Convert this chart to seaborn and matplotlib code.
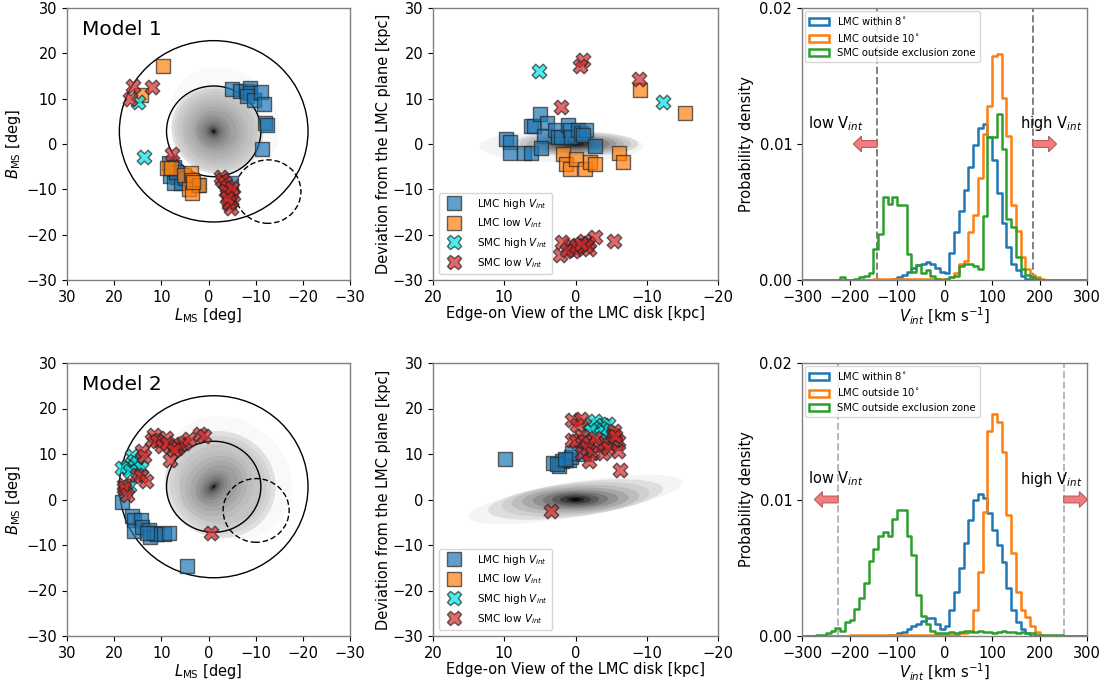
import numpy as np
import pandas as pd
import matplotlib
matplotlib.use("Agg")
import matplotlib.pyplot as plt
from matplotlib.patches import Circle, Ellipse, Patch
from matplotlib.lines import Line2D
import seaborn as sns

# ---------------------------------------------------------------- sky positions
# Model 1, (L_MS, B_MS) in degrees
m1_sky_lmc_hi_L = [-5.0, -6.7, -7.9, -8.9, -8.8, -8.2, -9.6, -11.2, -11.8, -12.0, -12.3, -11.4,
                   8.4, 7.4, 8.1, 6.6, 7.4, 5.9, 6.8, 2.2, -4.7, 5.0]
m1_sky_lmc_hi_B = [12.1, 11.6, 11.8, 12.3, 11.2, 10.5, 9.6, 11.4, 8.9, 4.6, 4.1, -1.1,
                   -4.2, -5.0, -7.0, -7.2, -8.7, -8.7, -6.2, -9.0, -8.5, -7.5]
m1_sky_lmc_lo_L = [9.6, 14.4, 8.9, 7.9, 5.2, 3.8, 3.5, 4.2, 2.0, 3.5, 3.2]
m1_sky_lmc_lo_B = [17.3, 10.9, -5.3, -5.3, -6.8, -6.5, -7.9, -9.9, -9.0, -10.9, -8.3]
m1_sky_smc_hi_L = [14.9, 13.7]
m1_sky_smc_hi_B = [9.2, -2.9]
m1_sky_smc_lo_L = [16.0, 16.6, 12.0, 7.7, -2.6, -2.9, -3.6, -4.0, -4.5, -4.1, -4.7, -4.3,
                   -4.8, -5.2, -3.8, -4.9, -4.4, -3.9]
m1_sky_smc_lo_B = [12.8, 9.9, 12.5, -2.3, -7.2, -7.9, -8.6, -9.4, -10.5, -11.6, -12.3, -13.2,
                   -14.2, -11.2, -10.4, -9.8, -12.8, -12.0]

# Model 2, (L_MS, B_MS) in degrees
m2_sky_lmc_hi_L = [18.3, 16.2, 15.8, 14.4, 15.8, 14.1, 12.7, 12.3, 11.6, 10.9, 9.5, 8.4, 13.0, 4.5]
m2_sky_lmc_hi_B = [-0.6, -3.7, -4.5, -4.5, -7.0, -6.0, -6.7, -8.2, -7.3, -7.6, -7.6, -7.4, -7.4, -14.6]
m2_sky_lmc_lo_L = []
m2_sky_lmc_lo_B = []
m2_sky_smc_hi_L = [16.2, 15.8, 17.3, 15.5, 15.1, 14.4, 18.3, 16.9, 17.6, 16.6]
m2_sky_smc_hi_B = [9.5, 8.4, 7.1, 7.3, 8.0, 6.9, 7.0, 2.9, 1.8, 6.2]
m2_sky_smc_lo_L = [11.6, 12.0, 9.1, 10.9, 9.8, 8.8, 7.0, 5.9, 6.6, 5.2, 4.2, 7.4, 8.1, 1.8,
                   1.0, 14.1, 13.7, 15.1, 14.4, 13.2, 18.0, 18.0, 17.3, -0.6]
m2_sky_smc_lo_B = [14.1, 13.1, 13.5, 12.8, 11.8, 12.4, 11.7, 12.2, 11.3, 12.4, 13.3, 10.9, 8.7, 14.4,
                   14.0, 10.6, 9.5, 5.4, 5.1, 4.0, 3.2, 2.5, 1.0, -7.3]

# ------------------------------------------------------- edge-on positions [kpc]
m1_edge_lmc_hi_x = [9.7, 9.2, 9.2, 7.2, 6.3, 6.2, 5.8, 5.0, 4.0, 4.4, 4.8, 2.9, 2.5, 2.0, 1.0,
                    0.8, 0.6, -0.4, -0.8, -1.5, -1.1, -2.8]
m1_edge_lmc_hi_z = [1.1, 0.5, -1.9, -1.9, -2.0, 3.9, 3.9, 6.6, 4.7, 1.8, -0.9, 3.1, 1.6, 1.6, 4.2,
                    3.1, 1.6, 3.1, 2.4, 3.0, 2.0, -0.4]
m1_edge_lmc_lo_x = [-9.0, -15.3, 1.7, 1.4, 0.8, -0.1, -1.4, -2.0, -2.8, -6.1, -6.7]
m1_edge_lmc_lo_z = [12.0, 6.8, -2.2, -4.4, -5.6, -3.3, -5.5, -4.0, -4.5, -2.0, -3.9]
m1_edge_smc_hi_x = [5.1, -12.3]
m1_edge_smc_hi_z = [16.0, 9.2]
m1_edge_smc_lo_x = [-1.1, -0.6, -8.9, 2.0, 0.8, 1.9, -0.1, 0.3, 2.2, 1.2, -1.2, -1.8, -1.9, -2.7,
                    -1.5, -5.4, 0.0, -0.8]
m1_edge_smc_lo_z = [18.6, 17.1, 14.4, 8.1, -22.3, -21.7, -23.1, -23.6, -24.5, -23.4, -21.4, -21.8,
                    -23.1, -20.6, -22.5, -21.3, -22.6, -22.0]

m2_edge_lmc_hi_x = [9.9, 3.1, 2.35, 1.9, 1.3, 0.9, 0.6, 0.47, -1.2, -5.6, 2.6, 1.5]
m2_edge_lmc_hi_z = [8.9, 8.0, 7.3, 8.4, 8.6, 8.7, 9.4, 10.3, 10.0, 12.4, 7.9, 9.0]
m2_edge_lmc_lo_x = []
m2_edge_lmc_lo_z = []
m2_edge_smc_hi_x = [-2.1, -2.8, -3.8, -4.5, -3.4, -3.9, -4.9, -5.2, -3.0, -2.0]
m2_edge_smc_hi_z = [16.4, 17.2, 16.4, 16.6, 15.7, 15.3, 12.4, 13.1, 14.8, 15.2]
m2_edge_smc_lo_x = [0.5, -0.75, -0.2, 0.5, 0.0, -0.9, -1.4, -1.9, -0.9, -1.6, -2.35, -1.9, -3.8,
                    -3.3, -4.0, -4.5, -5.2, -5.4, -5.9, -5.9, -5.6, -6.2, 3.5, -2.8]
m2_edge_smc_lo_z = [17.5, 17.7, 16.4, 13.1, 12.8, 13.9, 12.8, 12.4, 10.2, 11.3, 10.2, 8.4, 10.2,
                    11.7, 12.4, 11.3, 14.2, 15.0, 12.8, 10.6, 13.9, 6.4, -2.6, 13.6]

# ------------------------------------------------------ V_int histograms (density)
bin_edges = np.arange(-300, 301, 10)

m1_lmc_in8_start = -110
m1_lmc_in8 = [0.0001, 0.0002, 0.0004, 0.0006, 0.0009, 0.0011, 0.0012, 0.0013, 0.0012, 0.0009,
              0.0006, 0.0005, 0.0020, 0.0035, 0.0051, 0.0066, 0.0083, 0.0099, 0.0112, 0.0115,
              0.0105, 0.0088, 0.0064, 0.0042, 0.0024, 0.0012, 0.0007, 0.0003, 0.0001]
m1_lmc_out10_start = -150
m1_lmc_out10 = [0.0001] * 16 + [0.0002, 0.0005, 0.0012, 0.0014, 0.0035, 0.0048, 0.0075, 0.0107,
                                0.0128, 0.0165, 0.0166, 0.0134, 0.0106, 0.0055, 0.0036, 0.0017,
                                0.0008, 0.0004, 0.0002, 0.0001]
m1_smc_start = -220
m1_smc = [0.0002, 0.0, 0.0, 0.0001, 0.0002, 0.0003, 0.0005, 0.0023, 0.0034, 0.0061, 0.0056,
          0.0061, 0.0055, 0.0055, 0.0019, 0.0006, 0.0011, 0.0005, 0.0007, 0.0003, 0.0001, 0.0,
          0.0001, 0.0002, 0.0003, 0.0010, 0.0012, 0.0012, 0.0010, 0.0008, 0.0047, 0.0105,
          0.0105, 0.0122, 0.0096, 0.0045, 0.0039, 0.0017, 0.0008, 0.0004, 0.0002, 0.0001]

m2_lmc_in8_start = -120
m2_lmc_in8 = [0.0001, 0.0001, 0.0002, 0.0003, 0.0005, 0.0007, 0.0009, 0.0011, 0.0013, 0.0013,
              0.0009, 0.0005, 0.0007, 0.0019, 0.0032, 0.0050, 0.0068, 0.0085, 0.0100, 0.0104,
              0.0101, 0.0090, 0.0078, 0.0067, 0.0054, 0.0035, 0.0019, 0.0010, 0.0005, 0.0002]
m2_lmc_out10_start = -200
m2_lmc_out10 = [0.0001] * 23 + [0.0002, 0.0002, 0.0003, 0.0019, 0.0047, 0.0091, 0.0150, 0.0163,
                                0.0157, 0.0135, 0.0089, 0.0061, 0.0032, 0.0019, 0.0014, 0.0007,
                                0.0003, 0.0001]
m2_smc_start = -270
m2_smc = [0.0001, 0.0001, 0.0002, 0.0004, 0.0006, 0.0004, 0.0010, 0.0012, 0.0020, 0.0028,
          0.0039, 0.0055, 0.0064, 0.0073, 0.0076, 0.0073, 0.0086, 0.0092, 0.0092, 0.0073,
          0.0059, 0.0030, 0.0015, 0.0009, 0.0004, 0.0002, 0.0002, 0.0002, 0.0003, 0.0002,
          0.0003, 0.0004, 0.0004, 0.0003, 0.0004, 0.0003, 0.0003, 0.0002, 0.0003, 0.0004,
          0.0003, 0.0003, 0.0002, 0.0003, 0.0002, 0.0002, 0.0001, 0.0001, 0.0001, 0.0001,
          0.0001, 0.0001]

# velocity cuts separating low / high V_int
m1_vcut = [-142, 186]
m2_vcut = [-224, 251]

# ------------------------------------------ particle density shells (grey clouds)
# each shell: semi-axes a, b, rotation, offset from the cloud centre, grey level
lmc_center = (-1.1, 2.8)

m1_face_a = [12.5, 10.0, 9.3, 8.6, 7.8, 7.0, 6.2, 5.4, 4.6, 3.8, 3.1, 2.5, 1.9, 1.4, 1.0, 0.65, 0.35]
m1_face_b = [10.5, 9.5, 8.9, 8.2, 7.5, 6.7, 5.9, 5.2, 4.4, 3.6, 3.0, 2.4, 1.8, 1.3, 0.9, 0.55, 0.3]
m1_face_ang = [45] * 17
m1_face_off = ([(-2.5, 2.5)] + [(-0.8, 0.3)] * 4 + [(-0.4, 0.15)] * 4 + [(0.0, 0.0)] * 8)
m1_face_grey = [0.975, 0.87, 0.82, 0.79, 0.76, 0.73, 0.70, 0.67, 0.63, 0.59, 0.55, 0.51,
                0.46, 0.40, 0.33, 0.23, 0.10]

m2_face_a = [14.5, 12.0, 11.0, 10.0, 9.0, 8.0, 7.0, 6.0, 5.0, 4.1, 3.3, 2.6, 2.0, 1.5, 1.0,
             0.6, 0.3]
m2_face_b = [12.5, 11.5, 10.5, 9.5, 8.5, 7.4, 6.2, 5.1, 4.1, 3.2, 2.4, 1.8, 1.3, 0.95, 0.6,
             0.35, 0.18]
m2_face_ang = [45] * 5 + [135] * 12
m2_face_off = ([(-3.0, 2.0)] + [(-1.4, 0.5)] * 4 + [(-0.6, 0.2)] * 4 + [(0.0, 0.0)] * 8)
m2_face_grey = [0.975, 0.88, 0.83, 0.80, 0.77, 0.74, 0.70, 0.66, 0.62, 0.58, 0.53, 0.48,
                0.43, 0.37, 0.29, 0.19, 0.07]

m1_edge_a = [11.5, 8.8, 7.8, 6.8, 5.8, 4.8, 3.8, 2.9, 2.0, 1.2, 0.6]
m1_edge_b = [3.5, 2.7, 2.4, 2.1, 1.8, 1.5, 1.2, 0.95, 0.7, 0.45, 0.25]
m1_edge_ang = [0] * 11
m1_edge_off = [(2.0, -0.5)] + [(0.0, 0.0)] * 10
m1_edge_grey = [0.955, 0.85, 0.78, 0.70, 0.61, 0.52, 0.43, 0.34, 0.24, 0.14, 0.05]

m2_edge_a = [15.5, 12.5, 10.5, 9.0, 7.5, 6.0, 4.6, 3.3, 2.2, 1.2, 0.6]
m2_edge_b = [3.8, 3.7, 3.5, 3.1, 2.6, 2.1, 1.7, 1.3, 0.9, 0.55, 0.3]
m2_edge_ang = [-15, -12, -9, -6, -4, -3, -2, -1, 0, 0, 0]
m2_edge_off = [(0.0, 0.0)] * 11
m2_edge_grey = [0.955, 0.87, 0.81, 0.74, 0.66, 0.57, 0.47, 0.36, 0.24, 0.12, 0.03]

# circles on the sky: LMC 10 and 20 deg, SMC exclusion zone
m1_smc_zone = (-12.6, -10.5)
m2_smc_zone = (-10.1, -2.4)

# ------------------------------------------------------------------- styling
C_BLUE, C_ORANGE, C_GREEN, C_RED, C_CYAN = "#1f77b4", "#ff7f0e", "#2ca02c", "#d62728", "#00e5e5"
SPINE = "0.5"

plt.rcParams.update({
    "font.family": ["DejaVu Sans"],
    "font.size": 10.5,
    "axes.labelsize": 10.5,
    "xtick.labelsize": 10.5,
    "ytick.labelsize": 10.5,
    "axes.edgecolor": SPINE,
    "axes.linewidth": 1.0,
    "mathtext.default": "it",
})

fig = plt.figure(figsize=(11.09, 6.81), dpi=100)
W, H = 1109, 681


def add_axes(left, top, right, bottom):
    return fig.add_axes([left / W, 1 - bottom / H, (right - left) / W, (bottom - top) / H])


def draw_cloud(ax, center, a, b, ang, off, grey):
    for ai, bi, th, (ox, oy), g in zip(a, b, ang, off, grey):
        ax.add_patch(Ellipse((center[0] + ox, center[1] + oy), 2 * ai, 2 * bi, angle=th,
                             facecolor=str(g), edgecolor="none", zorder=0.5))


def draw_points(ax, groups):
    for (x, y), marker, color, size in groups:
        if len(x) == 0:
            continue
        df = pd.DataFrame({"x": x, "y": y})
        sns.scatterplot(data=df, x="x", y="y", marker=marker, s=size, color=color, alpha=0.7,
                        edgecolor="0.15", linewidth=1.0, ax=ax, zorder=3, legend=False)


def sky_panel(ax, pts, cloud, smc_zone, title):
    draw_cloud(ax, lmc_center, *cloud)
    for r in (20, 10):
        ax.add_patch(Circle(lmc_center, r, fill=False, ec="k", lw=1.0, zorder=2))
    ax.add_patch(Circle(smc_zone, 7, fill=False, ec="k", lw=1.0, ls=(0, (4, 2)), zorder=2))
    draw_points(ax, pts)
    ax.set_xlim(30, -30)
    ax.set_ylim(-30, 30)
    ax.set_xticks(np.arange(30, -31, -10))
    ax.set_yticks(np.arange(-30, 31, 10))
    ax.set_xlabel(r"$L_{\rm MS}$ [deg]", labelpad=1)
    ax.set_ylabel(r"$B_{\rm MS}$ [deg]", labelpad=2)
    ax.text(0.053, 0.955, title, transform=ax.transAxes, fontsize=14.5, va="top", ha="left")


def edge_panel(ax, pts, cloud):
    draw_cloud(ax, (0, 0), *cloud)
    draw_points(ax, pts)
    ax.set_xlim(20, -20)
    ax.set_ylim(-30, 30)
    ax.set_xticks(np.arange(20, -21, -10))
    ax.set_yticks(np.arange(-30, 31, 10))
    ax.set_xlabel("Edge-on View of the LMC disk [kpc]", labelpad=1)
    ax.set_ylabel("Deviation from the LMC plane [kpc]", labelpad=1)
    handles = [
        Line2D([], [], ls="none", marker="s", ms=9.5, mfc=C_BLUE, mec="0.15", alpha=0.7),
        Line2D([], [], ls="none", marker="s", ms=9.5, mfc=C_ORANGE, mec="0.15", alpha=0.7),
        Line2D([], [], ls="none", marker="X", ms=10.5, mfc=C_CYAN, mec="0.15", alpha=0.7),
        Line2D([], [], ls="none", marker="X", ms=10.5, mfc=C_RED, mec="0.15", alpha=0.7),
    ]
    labels = [r"LMC high $V_{int}$", r"LMC low $V_{int}$", r"SMC high $V_{int}$",
              r"SMC low $V_{int}$"]
    ax.legend(handles, labels, loc="lower left", fontsize=7.5, handletextpad=1.2,
              borderaxespad=0.6, labelspacing=0.55)


def expand(start, values):
    full = np.zeros(len(bin_edges) - 1)
    i0 = int((start - bin_edges[0]) // 10)
    full[i0:i0 + len(values)] = values
    return full


def hist_panel(ax, series, vcut, cut_color):
    centers = 0.5 * (bin_edges[:-1] + bin_edges[1:])
    for (start, vals), color in zip(series, [C_BLUE, C_ORANGE, C_GREEN]):
        df = pd.DataFrame({"v": centers, "w": expand(start, vals)})
        sns.histplot(data=df, x="v", weights="w", bins=list(bin_edges), element="step",
                     fill=False, color=color, linewidth=1.8, ax=ax, zorder=2)
    for v in vcut:
        ax.axvline(v, color=cut_color, ls="--", lw=1.4, zorder=1)
    arrow_kw = dict(width=0.0005, head_width=0.00115, head_length=17, length_includes_head=True,
                    fc="#f47c7c", ec="#b85c5c", lw=0.8, zorder=4)
    ax.arrow(vcut[0], 0.01, -50, 0, **arrow_kw)
    ax.arrow(vcut[1], 0.01, 50, 0, **arrow_kw)
    ax.text(-228, 0.0115, r"low V$_{int}$", ha="center", va="center", fontsize=10.5)
    ax.text(224, 0.0115, r"high V$_{int}$", ha="center", va="center", fontsize=10.5)
    ax.set_xlim(-300, 300)
    ax.set_ylim(0, 0.02)
    ax.set_xticks(np.arange(-300, 301, 100))
    ax.set_yticks([0, 0.01, 0.02])
    ax.set_yticklabels(["0.00", "0.01", "0.02"])
    ax.set_xlabel(r"$V_{int}$ [km s$^{-1}$]", labelpad=1)
    ax.set_ylabel("Probability density", labelpad=4)
    handles = [Patch(facecolor="none", edgecolor=c, lw=1.8) for c in (C_BLUE, C_ORANGE, C_GREEN)]
    labels = [r"LMC within 8$^{\circ}$", r"LMC outside 10$^{\circ}$",
              "SMC outside exclusion zone"]
    ax.legend(handles, labels, loc="upper left", fontsize=7.2, borderaxespad=0.3,
              labelspacing=0.45)


# ------------------------------------------------------------------- panels
ax1 = add_axes(67, 8, 350, 280)
ax2 = add_axes(433, 8, 718, 280)
ax3 = add_axes(802, 8, 1087, 280)
ax4 = add_axes(67, 363, 350, 636)
ax5 = add_axes(433, 363, 718, 636)
ax6 = add_axes(802, 363, 1087, 636)

sq, xs = 92, 110
sky_panel(ax1, [((m1_sky_lmc_hi_L, m1_sky_lmc_hi_B), "s", C_BLUE, sq),
                ((m1_sky_lmc_lo_L, m1_sky_lmc_lo_B), "s", C_ORANGE, sq),
                ((m1_sky_smc_hi_L, m1_sky_smc_hi_B), "X", C_CYAN, xs),
                ((m1_sky_smc_lo_L, m1_sky_smc_lo_B), "X", C_RED, xs)],
          (m1_face_a, m1_face_b, m1_face_ang, m1_face_off, m1_face_grey), m1_smc_zone, "Model 1")
edge_panel(ax2, [((m1_edge_lmc_hi_x, m1_edge_lmc_hi_z), "s", C_BLUE, sq),
                 ((m1_edge_lmc_lo_x, m1_edge_lmc_lo_z), "s", C_ORANGE, sq),
                 ((m1_edge_smc_hi_x, m1_edge_smc_hi_z), "X", C_CYAN, xs),
                 ((m1_edge_smc_lo_x, m1_edge_smc_lo_z), "X", C_RED, xs)],
           (m1_edge_a, m1_edge_b, m1_edge_ang, m1_edge_off, m1_edge_grey))
hist_panel(ax3, [(m1_lmc_in8_start, m1_lmc_in8), (m1_lmc_out10_start, m1_lmc_out10),
                 (m1_smc_start, m1_smc)], m1_vcut, "0.5")

sky_panel(ax4, [((m2_sky_lmc_hi_L, m2_sky_lmc_hi_B), "s", C_BLUE, sq),
                ((m2_sky_lmc_lo_L, m2_sky_lmc_lo_B), "s", C_ORANGE, sq),
                ((m2_sky_smc_hi_L, m2_sky_smc_hi_B), "X", C_CYAN, xs),
                ((m2_sky_smc_lo_L, m2_sky_smc_lo_B), "X", C_RED, xs)],
          (m2_face_a, m2_face_b, m2_face_ang, m2_face_off, m2_face_grey), m2_smc_zone, "Model 2")
edge_panel(ax5, [((m2_edge_lmc_hi_x, m2_edge_lmc_hi_z), "s", C_BLUE, sq),
                 ((m2_edge_lmc_lo_x, m2_edge_lmc_lo_z), "s", C_ORANGE, sq),
                 ((m2_edge_smc_hi_x, m2_edge_smc_hi_z), "X", C_CYAN, xs),
                 ((m2_edge_smc_lo_x, m2_edge_smc_lo_z), "X", C_RED, xs)],
           (m2_edge_a, m2_edge_b, m2_edge_ang, m2_edge_off, m2_edge_grey))
hist_panel(ax6, [(m2_lmc_in8_start, m2_lmc_in8), (m2_lmc_out10_start, m2_lmc_out10),
                 (m2_smc_start, m2_smc)], m2_vcut, "0.72")

fig.savefig("out.png", dpi=100)
